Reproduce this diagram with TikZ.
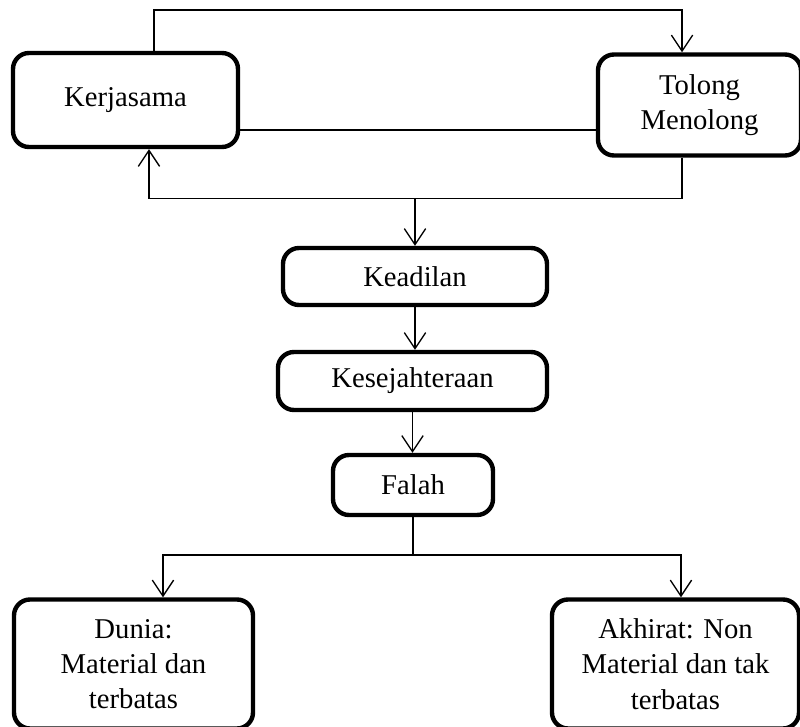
\documentclass[tikz,border=0pt]{standalone}
\usepackage{fontspec}
\setmainfont{Liberation Serif}
\usetikzlibrary{arrows.meta,positioning}

\begin{document}
\begin{tikzpicture}[x=0.75pt, y=-0.75pt,
  box/.style = {rectangle, rounded corners=12pt, draw, line width=3.3pt, align=center, inner sep=0, font=\fontsize{21.5}{26}\selectfont},
  link/.style = {line width=1.2pt},
  arr/.style = {link, -{Straight Barb[length=12pt,width=16pt,line width=1pt]}}]

\useasboundingbox (0,0) rectangle (800,727);

\node[box, minimum width=168.75pt, minimum height=70.5pt](kerja) at (125.5,100){Kerjasama};
\node[box, minimum width=152.25pt, minimum height=75.75pt](tolong) at (699.5,105){Tolong\\Menolong};
\node[box, minimum width=198pt, minimum height=42.75pt](adil) at (415,276.5){Keadilan};
\node[box, minimum width=201.75pt, minimum height=43.5pt](sejah) at (412.5,381){Kesejahteraan};
\node[box, minimum width=120pt, minimum height=45pt](falah) at (413,485){Falah};
\node[box, minimum width=179.25pt, minimum height=96.75pt, font=\fontsize{21.5}{26.5}\selectfont](dunia) at (133.5,664){Dunia:\\Material dan\\terbatas};
\node[box, minimum width=185.25pt, minimum height=96.75pt, font=\fontsize{21.5}{26.5}\selectfont](akhirat) at (675.5,664){Akhirat: Non\\Material dan tak\\terbatas};

\draw [arr] ([xshift=21.4pt]kerja.north) -- ++(0,-41) -| ([xshift=-13.1pt]tolong.north);
\draw [link] ([yshift=-22.5pt]kerja.east) -- ([yshift=-22.5pt]kerja.east -| tolong.west);
\draw [arr] ([xshift=-13.1pt]tolong.south) -- ++(0,41) coordinate(loop) -| ([xshift=17.6pt]kerja.south);
\draw [arr] (adil.north |- loop) -- (adil.north);
\draw [arr] (adil.south) -- (adil.south |- sejah.north);
\draw [arr] (sejah.south) -- (sejah.south |- falah.north);
\draw [link] (falah.south) -- ++(0,38) coordinate(split);
\draw [arr] (split) -| ([xshift=22.1pt]dunia.north);
\draw [arr] (split) -| ([xshift=4.1pt]akhirat.north);

\end{tikzpicture}
\end{document}
